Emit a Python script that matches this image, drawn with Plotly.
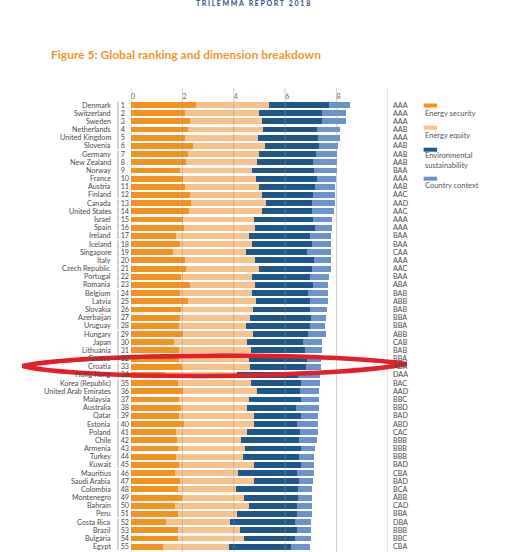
import plotly.graph_objects as go

countries = ["Denmark", "Switzerland", "Sweden", "Netherlands", "United Kingdom", "Slovenia",
             "Germany", "New Zealand", "Norway", "France", "Austria", "Finland", "Canada",
             "United States", "Israel", "Spain", "Ireland", "Iceland", "Singapore", "Italy",
             "Czech Republic", "Portugal", "Romania", "Belgium", "Latvia", "Slovakia",
             "Azerbaijan", "Uruguay", "Hungary", "Japan", "Lithuania", "Greece", "Croatia",
             "Hong Kong", "Korea (Republic)", "United Arab Emirates", "Malaysia", "Australia",
             "Qatar", "Estonia", "Poland", "Chile", "Armenia", "Turkey", "Kuwait", "Mauritius",
             "Saudi Arabia", "Colombia", "Montenegro", "Bahrain", "Peru", "Costa Rica",
             "Brazil", "Bulgaria", "Egypt"]
ranks = list(range(1, 56))

energy_security = [2.53, 2.11, 2.30, 2.22, 2.11, 2.42, 2.22, 2.14, 1.91, 2.03, 2.11, 2.30, 2.34,
                   2.26, 2.03, 2.07, 1.76, 1.91, 1.64, 2.11, 2.14, 1.95, 2.30, 1.91, 2.22, 1.95,
                   1.91, 1.87, 2.03, 1.68, 1.87, 1.85, 1.99, 1.33, 1.83, 2.03, 1.87, 1.95, 1.87,
                   2.07, 1.76, 1.80, 1.83, 1.76, 1.87, 1.72, 1.91, 1.83, 1.99, 1.72, 1.83, 1.37,
                   1.83, 1.83, 1.25]
energy_equity = [2.83, 2.86, 2.79, 2.91, 2.83, 2.79, 2.75, 2.76, 2.79, 2.83, 2.86, 2.79, 2.91,
                 2.83, 2.75, 2.75, 2.83, 2.79, 2.83, 2.71, 2.83, 2.75, 2.52, 2.79, 2.64, 2.79,
                 2.72, 2.60, 2.71, 2.83, 2.79, 2.75, 2.64, 2.78, 2.83, 2.87, 2.72, 2.56, 2.91,
                 2.71, 2.75, 2.48, 2.60, 2.59, 2.91, 2.44, 2.87, 2.25, 2.40, 2.87, 2.29, 2.48,
                 2.41, 2.56, 2.56]
environmental = [2.33, 2.45, 2.36, 2.09, 2.32, 2.09, 2.21, 2.17, 2.41, 2.36, 2.17, 1.98, 1.78,
                 1.94, 2.29, 2.32, 2.36, 2.33, 2.36, 2.29, 2.06, 2.25, 2.25, 2.17, 2.09, 2.21,
                 2.36, 2.48, 2.13, 2.17, 2.10, 2.23, 2.17, 2.38, 1.94, 1.66, 2.01, 1.90, 1.82,
                 1.67, 2.05, 2.24, 2.17, 2.17, 1.82, 2.29, 1.74, 2.41, 2.10, 1.86, 2.33, 2.52,
                 2.21, 1.98, 2.40]
country_context = [0.85, 0.93, 0.90, 0.93, 0.89, 0.74, 0.82, 0.93, 0.89, 0.74, 0.78, 0.85, 0.89,
                   0.85, 0.77, 0.70, 0.85, 0.77, 0.94, 0.66, 0.74, 0.74, 0.58, 0.78, 0.70, 0.66,
                   0.58, 0.58, 0.70, 0.77, 0.69, 0.58, 0.58, 0.85, 0.74, 0.74, 0.70, 0.89, 0.66,
                   0.81, 0.70, 0.70, 0.54, 0.59, 0.51, 0.66, 0.55, 0.54, 0.54, 0.58, 0.58, 0.62,
                   0.54, 0.62, 0.74]
ratings = ["AAA", "AAA", "AAA", "AAB", "AAA", "AAB", "AAB", "AAB", "BAA", "AAA", "AAB", "AAC",
           "AAD", "AAC", "AAA", "AAA", "BAA", "BAA", "CAA", "AAA", "AAC", "BAA", "ABA", "BAB",
           "ABB", "BAB", "BBA", "BBA", "ABB", "CAB", "BAB", "BBA", "ABA", "DAA", "BAC", "AAD",
           "BBC", "BBD", "BAD", "ABD", "CAC", "BBB", "BBB", "BBB", "BAD", "CBA", "BAD", "BCA",
           "ABB", "CAD", "BBA", "DBA", "BBB", "BBC", "CBA"]
x_ticks = [0, 2, 4, 6, 8, 10]

series = [("Energy security", energy_security, "#F29321"),
          ("Energy equity", energy_equity, "#F8C28C"),
          ("Environmental<br>sustainability", environmental, "#1E5788"),
          ("Country context", country_context, "#6B93CB")]

W, H = 512, 552
L, T, B = 130.7, 88, 0
PW = 257.6
R = W - L - PW
PH = H - T - B


def px_x(px):
    return (px - L) / PW


def px_y(py):
    return (H - B - py) / PH


FONT = "Lato"
fig = go.Figure()
for name, vals, col in series:
    fig.add_trace(go.Bar(x=vals, y=ranks, orientation="h", name=name.replace("<br>", " "),
                         marker=dict(color=col, line=dict(width=0)), width=0.72,
                         showlegend=False))

ann = []
for c, r, rt in zip(countries, ranks, ratings):
    ann.append(dict(x=px_x(112.8), xref="paper", y=r, yref="y", text=c, showarrow=False,
                    xanchor="right", yanchor="middle", font=dict(size=7.2, color="#4a4a4a", family=FONT)))
    ann.append(dict(x=px_x(114.2), xref="paper", y=r, yref="y", text="| " + str(r), showarrow=False,
                    xanchor="left", yanchor="middle", font=dict(size=7.2, color="#4a4a4a", family=FONT)))
    ann.append(dict(x=px_x(391), xref="paper", y=r, yref="y", text=rt, showarrow=False,
                    xanchor="left", yanchor="middle", font=dict(size=7.2, color="#4a4a4a", family=FONT)))

# title and header
ann.append(dict(x=px_x(49), xref="paper", y=px_y(54), yref="paper", text="<b>Figure 5: Global ranking and dimension breakdown</b>",
                showarrow=False, xanchor="left", yanchor="middle", font=dict(size=12, color="#F0962F", family=FONT)))
ann.append(dict(x=px_x(253), xref="paper", y=px_y(3), yref="paper", text="<b>T R I L E M M A   R E P O R T   2 0 1 8</b>",
                showarrow=False, xanchor="center", yanchor="middle", font=dict(size=7, color="#2E4F7E", family=FONT)))

shapes = []
# legend
leg_sq = [103.5, 125.7, 147.7, 176.7]
leg_tx = [113, 135, 160, 186]
for (name, vals, col), sy, ty in zip(series, leg_sq, leg_tx):
    shapes.append(dict(type="rect", xref="paper", yref="paper", x0=px_x(424), x1=px_x(437.5),
                       y0=px_y(sy), y1=px_y(sy + 4), fillcolor=col, line=dict(width=0)))
    ann.append(dict(x=px_x(423.5), xref="paper", y=px_y(ty), yref="paper", text=name, showarrow=False,
                    xanchor="left", yanchor="middle", align="left",
                    font=dict(size=7.5, color="#555555", family=FONT)))

# gridlines above bars
for t in x_ticks:
    shapes.append(dict(type="line", xref="x", yref="paper", x0=t, x1=t, y0=0, y1=1,
                       line=dict(color="rgba(150,150,150,0.55)", width=0.8), layer="above"))

# top page edge
shapes.append(dict(type="rect", xref="paper", yref="paper", x0=px_x(0), x1=px_x(512),
                   y0=px_y(0), y1=px_y(-2), fillcolor="#b8b8b8", line=dict(width=0)))

# red hand-drawn highlight around Croatia
def P(px, py):
    return f"{px_x(px):.5f},{px_y(py):.5f}"

path = ("M " + P(22, 366) + " C " + P(80, 353) + " " + P(330, 352) + " " + P(407, 364)
        + " C " + P(330, 379) + " " + P(80, 380) + " " + P(22, 366) + " Z")
shapes.append(dict(type="path", xref="paper", yref="paper", path=path,
                   line=dict(color="#E3202A", width=4.5), fillcolor="rgba(0,0,0,0)", layer="above"))
path2 = ("M " + P(40, 364) + " C " + P(90, 357) + " " + P(200, 356) + " " + P(300, 357))
shapes.append(dict(type="path", xref="paper", yref="paper", path=path2,
                   line=dict(color="#E3202A", width=2.5), layer="above"))

fig.update_layout(
    width=W, height=H, barmode="stack", bargap=0.28,
    margin=dict(l=L, r=R, t=T, b=B, pad=0, autoexpand=False),
    paper_bgcolor="white", plot_bgcolor="white",
    xaxis=dict(side="top", range=[0, 10], tickvals=x_ticks, ticktext=[str(t) for t in x_ticks],
               ticklabelposition="inside right", showgrid=False, zeroline=False, showline=False,
               ticks="", tickfont=dict(size=7, color="#666666", family=FONT)),
    yaxis=dict(range=[55.65, -1.08], showticklabels=False, showgrid=False, zeroline=False,
               showline=False, ticks=""),
    annotations=ann, shapes=shapes, font=dict(family=FONT),
)

fig.write_html("out.html", config={"displayModeBar": False},
               post_script="document.body.style.margin='0px';document.body.style.padding='0px';")
